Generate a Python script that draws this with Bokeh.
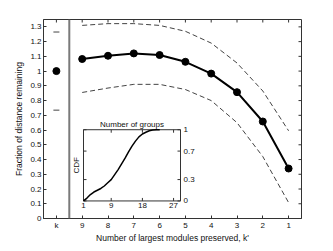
import math
from bokeh.plotting import figure
from bokeh.models import Span, FixedTicker, CustomJSTickFormatter, Range1d
from bokeh.core.properties import value
from bokeh.embed import file_html
from bokeh.resources import INLINE

FONT = "Liberation Sans"

# ---------------- data ----------------
x_labels = ["k", "9", "8", "7", "6", "5", "4", "3", "2", "1"]
kprime = ["9", "8", "7", "6", "5", "4", "3", "2", "1"]
mean_frac = [1.082, 1.104, 1.120, 1.109, 1.063, 0.983, 0.857, 0.658, 0.339]
upper_frac = [1.310, 1.322, 1.322, 1.310, 1.270, 1.190, 1.055, 0.865, 0.595]
lower_frac = [0.855, 0.885, 0.910, 0.910, 0.875, 0.800, 0.650, 0.420, 0.108]
k_cat = ["k"]
k_mean = [1.0]
k_bounds = [1.265, 0.735]
y_lim = [0.0, 1.35]
y_ticks = [0.0, 0.1, 0.2, 0.3, 0.4, 0.5, 0.6, 0.7, 0.8, 0.9, 1.0, 1.1, 1.2, 1.3]

cdf_groups = [1, 2, 3, 4, 5, 6, 7, 8, 9, 10, 11, 12, 13, 14, 15, 16, 17, 18,
              19, 20, 21, 22, 23]
cdf_vals = [0.0, 0.04, 0.09, 0.125, 0.15, 0.175, 0.21, 0.255, 0.30, 0.37,
            0.44, 0.52, 0.60, 0.69, 0.77, 0.84, 0.90, 0.94, 0.965, 0.985,
            0.995, 1.0, 1.0]
inset_xlim = [1, 29]
inset_ylim = [0, 1]
inset_xticks = [1, 9, 18, 27]
inset_xlabels = ["1", "9", "18", "27"]
inset_yticks = [0, 0.3, 0.7, 1]
inset_ylabels = ["0", "0.3", "0.7", "1"]
inset_title = "Number of groups"
inset_ylabel = "CDF"

# categorical positions through the axis ticker
pos = {lab: i for i, lab in enumerate(x_labels)}
x_ticks = [pos[l] for l in x_labels]
kp_x = [pos[l] for l in kprime]
k_x = [pos[l] for l in k_cat]
x_lim = [x_ticks[0] - 0.5, x_ticks[-1] + 0.5]

# ---------------- layout (page pixels) ----------------
ORIG = 0
FL, FR, FT, FB = 43, 301, 19, 223          # main frame
IL, IR, IT, IB = 83, 180, 132, 205          # inset frame
W, H = 325, 245

ppx = (IR - IL) / (inset_xlim[1] - inset_xlim[0])
ppy = (IB - IT) / (inset_ylim[1] - inset_ylim[0])
ix_range = Range1d(inset_xlim[0] - (IL - FL) / ppx, inset_xlim[1] + (FR - IR) / ppx)
iy_range = Range1d(inset_ylim[0] - (FB - IB) / ppy, inset_ylim[1] + (IT - FT) / ppy)

AX = "#333333"
TXT = "#111111"
FS = "8px"

p = figure(width=W, height=H,
           x_range=Range1d(x_lim[0], x_lim[1]),
           y_range=Range1d(y_lim[0], y_lim[1]),
           output_backend="svg", toolbar_location=None,
           min_border_left=FL - ORIG, min_border_right=ORIG + W - FR,
           min_border_top=FT - ORIG, min_border_bottom=ORIG + H - FB)
p.extra_x_ranges = {"ix": ix_range}
p.extra_y_ranges = {"iy": iy_range}
p.xgrid.visible = False
p.ygrid.visible = False
p.outline_line_color = AX
p.outline_line_width = 1

for ax in (p.xaxis[0], p.yaxis[0]):
    ax.major_tick_in = 3
    ax.major_tick_out = 0
    ax.minor_tick_in = 0
    ax.minor_tick_out = 0
    ax.axis_line_color = AX
    ax.major_tick_line_color = AX
    ax.major_label_text_font = FONT
    ax.major_label_text_font_size = FS
    ax.major_label_text_color = TXT
    ax.major_label_standoff = 2
    ax.axis_label_text_font = FONT
    ax.axis_label_text_font_size = "8.5px"
    ax.axis_label_text_font_style = "normal"
    ax.axis_label_text_color = TXT

p.xaxis.ticker = FixedTicker(ticks=x_ticks)
p.xaxis.major_label_overrides = {t: l for t, l in zip(x_ticks, x_labels)}
p.yaxis.ticker = FixedTicker(ticks=y_ticks)
p.yaxis.formatter = CustomJSTickFormatter(code="return Number(tick.toFixed(1)).toString();")
p.yaxis.axis_label = "Fraction of distance remaining"
p.yaxis.axis_label_standoff = 3
p.xaxis.axis_label = "Number of largest modules preserved, k'"
p.xaxis.axis_label_standoff = 0

# mirrored inward ticks on top and right (MATLAB box)
p.ray(x=x_ticks, y=[y_lim[1]] * len(x_ticks), length=3, length_units="screen",
      angle=-math.pi / 2, line_color=AX, line_width=1)
p.ray(x=[x_lim[1]] * len(y_ticks), y=y_ticks, length=3, length_units="screen",
      angle=math.pi, line_color=AX, line_width=1)

p.add_layout(Span(location=(k_x[0] + kp_x[0]) / 2, dimension="height",
                  line_color="#7a7a7a", line_width=2))

p.line(kp_x, upper_frac, line_color="#444444", line_width=1, line_dash="5 3")
p.line(kp_x, lower_frac, line_color="#444444", line_width=1, line_dash="5 3")
p.line(kp_x, mean_frac, line_color="black", line_width=2)
p.scatter(kp_x, mean_frac, size=7, color="black")
p.scatter(k_x, k_mean, size=7, color="black")
p.scatter(k_x * 2, k_bounds, marker="dash", size=6, line_color="#444444",
          line_width=1)

# ---------------- inset ----------------
R = dict(x_range_name="ix", y_range_name="iy")
p.quad(left=[inset_xlim[0]], right=[inset_xlim[1]], bottom=[inset_ylim[0]],
       top=[inset_ylim[1]], fill_color="white", line_color=AX, line_width=1, **R)
n = len(inset_xticks)
m = len(inset_yticks)
p.ray(x=inset_xticks, y=[inset_ylim[0]] * n, length=3, length_units="screen",
      angle=math.pi / 2, line_color=AX, **R)
p.ray(x=inset_xticks, y=[inset_ylim[1]] * n, length=3, length_units="screen",
      angle=-math.pi / 2, line_color=AX, **R)
p.ray(x=[inset_xlim[0]] * m, y=inset_yticks, length=3, length_units="screen",
      angle=0, line_color=AX, **R)
p.ray(x=[inset_xlim[1]] * m, y=inset_yticks, length=3, length_units="screen",
      angle=math.pi, line_color=AX, **R)

p.line(cdf_groups, cdf_vals, line_color="black", line_width=1.5, **R)

p.text(x=inset_xticks, y=[inset_ylim[0]] * n, text=inset_xlabels,
       text_align="center", text_baseline="top", y_offset=2,
       text_font=value(FONT), text_font_size=value(FS), text_color=TXT, **R)
p.text(x=[inset_xlim[1]] * m, y=inset_yticks, text=inset_ylabels,
       text_align="left", text_baseline="middle", x_offset=3,
       text_font=value(FONT), text_font_size=value(FS), text_color=TXT, **R)
p.text(x=[(inset_xlim[0] + inset_xlim[1]) / 2], y=[inset_ylim[1]], text=[inset_title],
       text_align="center", text_baseline="bottom", y_offset=-1,
       text_font=value(FONT), text_font_size=value(FS), text_color=TXT, **R)
p.text(x=[inset_xlim[0]], y=[(inset_ylim[0] + inset_ylim[1]) / 2], text=[inset_ylabel],
       angle=math.pi / 2, text_align="center", text_baseline="bottom", x_offset=-3,
       text_font=value(FONT), text_font_size=value(FS), text_color=TXT, **R)

open("out.html", "w").write(file_html(p, INLINE))
